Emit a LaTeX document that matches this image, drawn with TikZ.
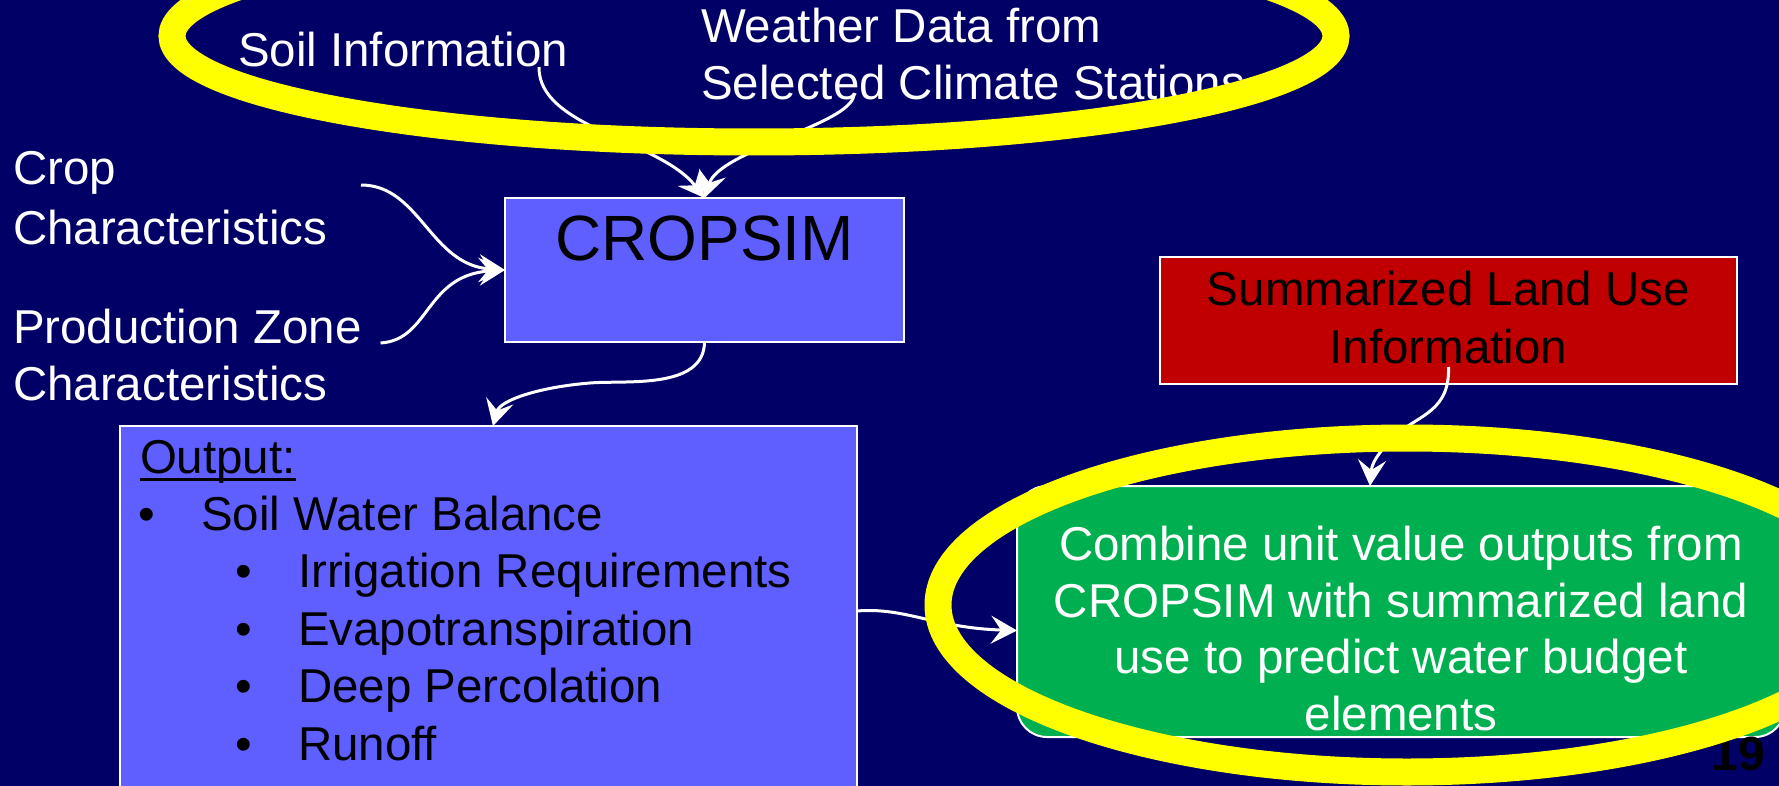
\documentclass[tikz,border=0pt]{standalone}
\usepackage{fontspec}
\setmainfont{Liberation Sans}
\usetikzlibrary{arrows.meta}

\definecolor{navy}{RGB}{0,0,102}
\definecolor{boxblue}{RGB}{95,95,255}
\definecolor{boxgreen}{RGB}{0,176,80}
\definecolor{boxred}{RGB}{192,0,0}
\definecolor{ringyellow}{RGB}{255,255,0}

\tikzset{
  txt/.style={font=\fontsize{47.5}{57}\selectfont, inner sep=0pt, outer sep=0pt},
  wtxt/.style={txt, text=white},
  btxt/.style={txt, text=black},
  panel/.style={draw=white, line width=2pt, anchor=north west, inner sep=0pt, outer sep=0pt},
  conn/.style={draw=white, line width=3pt, -{Stealth[length=26pt,width=28pt,inset=10pt]}},
  ring/.style={draw=ringyellow, line width=27pt},
}

\begin{document}
\begin{tikzpicture}[x=1pt,y=-1pt]
  \useasboundingbox (0,0) rectangle (1779,786);
  \clip (0,0) rectangle (1779,786);
  \fill[navy] (0,0) rectangle (1779,786);

  % boxes
  \node[panel, fill=boxblue, minimum width=399pt, minimum height=144pt] (crop) at (505,198) {};
  \node[panel, fill=boxred, minimum width=577pt, minimum height=127pt] (land) at (1160,257) {};
  \node[panel, fill=boxblue, minimum width=737pt, minimum height=370pt] (outbox) at (120,426) {};
  \node[panel, fill=boxgreen, rounded corners=30pt, minimum width=768pt, minimum height=251pt] (green) at (1017,486) {};

  % inputs
  \node[wtxt, anchor=base west] (soil) at (238,67) {Soil Information};
  \node[wtxt, anchor=base west] (wx1) at (701,43) {Weather Data from};
  \node[wtxt, anchor=base west] (wx2) at (701,100) {Selected Climate Stations};
  \node[wtxt, anchor=base west] (cropA) at (13,185) {Crop};
  \node[wtxt, anchor=base west] (cropB) at (13,245) {Characteristics};
  \node[wtxt, anchor=base west] (prodA) at (13,343) {Production Zone};
  \node[wtxt, anchor=base west] (prodB) at (13,400) {Characteristics};

  % model
  \node[btxt, font=\fontsize{64}{70}\selectfont, anchor=base] (cropT) at (704.5,261) {CROPSIM};

  % land use
  \node[btxt, anchor=base] (landA) at (1448.5,305) {Summarized Land Use};
  \node[btxt, anchor=base] (landB) at (1448.5,363) {Information};

  % outputs list
  \node[btxt, anchor=base west] (out0) at (140,473) {Output:};
  \draw[black, line width=3pt] ([yshift=-6pt]out0.base west) -- ([yshift=-6pt]out0.base east);
  \node[btxt, anchor=base] (b1) at (147,530) {•};
  \node[btxt, anchor=base west] (out1) at (201,530) {Soil Water Balance};
  \node[btxt, anchor=base] (b2) at (244,587) {•};
  \node[btxt, anchor=base west] (out2) at (298,587) {Irrigation Requirements};
  \node[btxt, anchor=base] (b3) at (244,645) {•};
  \node[btxt, anchor=base west] (out3) at (298,645) {Evapotranspiration};
  \node[btxt, anchor=base] (b4) at (244,702) {•};
  \node[btxt, anchor=base west] (out4) at (298,702) {Deep Percolation};
  \node[btxt, anchor=base] (b5) at (244,760) {•};
  \node[btxt, anchor=base west] (out5) at (298,760) {Runoff};

  % combination step
  \node[wtxt, anchor=base] (g1) at (1401,560) {Combine unit value outputs from};
  \node[wtxt, anchor=base] (g2) at (1401,617) {CROPSIM with summarized land};
  \node[wtxt, anchor=base] (g3) at (1401,673) {use to predict water budget};
  \node[wtxt, anchor=base] (g4) at (1401,730) {elements};

  % connector start points
  \coordinate (soilout) at ([xshift=-29pt]soil.base east);
  \coordinate (wxout) at ([xshift=153pt,yshift=5pt]wx2.base west);
  \coordinate (cropout) at (361,185);
  \coordinate (prodout) at ([xshift=19pt]prodA.base east);
  \coordinate (landout) at ([yshift=17pt]land.south);

  % connectors
  \draw[conn] (soilout) .. controls (538,128) and (660,140) .. (crop.north);
  \draw[conn] (wxout) .. controls (850,125) and (720,150) .. (crop.north);
  \draw[conn] (cropout) .. controls (420,185) and (430,265) .. (crop.west);
  \draw[conn] (prodout) .. controls (430,340) and (425,275) .. (crop.west);
  \draw[conn] (crop.south) .. controls (704,390) and (625,380) .. (590,383)
                           .. controls (540,387) and (500,400) .. ([xshift=373pt]outbox.north west);
  \draw[conn] (outbox.east) .. controls (905,607) and (935,628) .. ([yshift=-19pt]green.west);
  \draw[conn] (landout) .. controls (1450,410) and (1420,415) .. (1400,432)
                        .. controls (1385,445) and (1372,460) .. ([xshift=-31pt]green.north);

  % slide number
  \node[btxt, font=\fontsize{48}{52}\selectfont\bfseries, anchor=base east] (pg) at (1765,770) {19};

  % highlight rings
  \draw[ring] (754,36) ellipse [x radius=582, y radius=106];
  \draw[ring] (1407,605) ellipse [x radius=469, y radius=167];
\end{tikzpicture}
\end{document}
